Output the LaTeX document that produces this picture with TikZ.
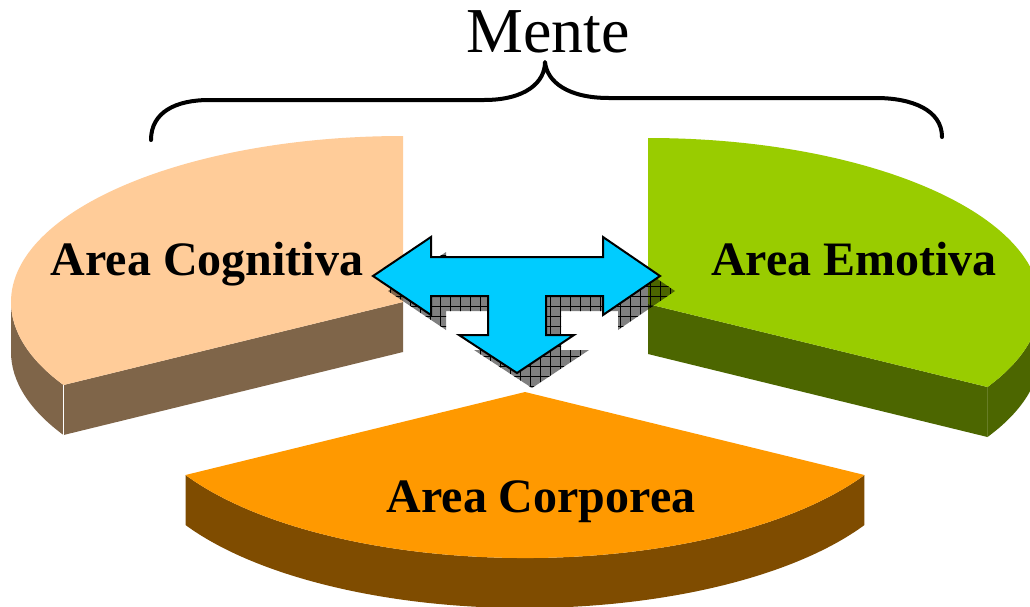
\documentclass[tikz,border=0pt]{standalone}
\usepackage{fontspec}
\setmainfont{Liberation Serif}
\usetikzlibrary{patterns.meta}
\definecolor{peach}{HTML}{FFCC99}
\definecolor{peachside}{HTML}{7F6549}
\definecolor{leaf}{HTML}{99CC00}
\definecolor{leafside}{HTML}{4C6600}
\definecolor{amber}{HTML}{FF9900}
\definecolor{amberside}{HTML}{7F4C00}
\definecolor{sky}{HTML}{00CCFF}
\def\tarrowpath{(373,276) -- (431,237) -- (431,257) -- (603,257) -- (603,237) -- (660,276) -- (603,315) -- (603,296) -- (546,296) -- (546,335) -- (574,335) -- (517,373) -- (459,335) -- (488,335) -- (488,296) -- (431,296) -- (431,315) -- cycle}
\begin{document}
\begin{tikzpicture}[x=1pt,y=-1pt,
  arealabel/.style={font=\fontsize{48}{48}\selectfont\bfseries, anchor=base, inner sep=0pt},
  titlelabel/.style={font=\fontsize{64}{64}\selectfont, anchor=base, inner sep=0pt},
  ell/.style={x radius=392, y radius=166},
  bracestyle/.style={line width=4pt, line cap=round, line join=round},
  shadowfill/.style={fill=black, fill opacity=0.5},
  shadowgrid/.style={pattern={Hatch[angle=0,distance=10pt,line width=1pt]}, pattern color=black},
  arrowstyle/.style={fill=sky, draw=black, line width=2pt, line join=miter}]
\useasboundingbox[fill=white] (0,0) rectangle (1030,606);

% ---- left slice (Area Cognitiva)
\coordinate (c1) at (403,302);
\coordinate (c1b) at (403,352);
\fill[peachside] (c1) -- ++(150:392 and 166) coordinate (l1)
  arc[start angle=150, end angle=180, ell] -- ++(0,50)
  arc[start angle=180, end angle=150, ell] -- (c1b) -- cycle;
\fill[peach] (c1) -- ++(0,-166) arc[start angle=270, end angle=150, ell] -- cycle;
\draw[white, line width=1pt] (l1) -- ++(0,50);

% ---- right slice (Area Emotiva)
\coordinate (c2) at (648,304);
\coordinate (c2b) at (648,354);
\fill[leafside] (c2) -- ++(30:392 and 166) coordinate (r1)
  arc[start angle=30, end angle=0, ell] -- ++(0,50)
  arc[start angle=0, end angle=30, ell] -- (c2b) -- cycle;
\fill[leaf] (c2) -- ++(0,-166) arc[start angle=270, end angle=390, ell] -- cycle;
\draw[leafside!85!white, line width=0.6pt] (r1) -- ++(0,50);

% ---- bottom slice (Area Corporea)
\coordinate (c3) at (525,392);
\fill[amberside] (c3) ++(150:392 and 166)
  arc[start angle=150, end angle=30, ell] -- ++(0,50)
  arc[start angle=30, end angle=150, ell] -- cycle;
\fill[amber] (c3) -- ++(150:392 and 166) arc[start angle=150, end angle=30, ell] -- cycle;

% ---- arrow shadow
\begin{scope}[shift={(15,15)}]
  \fill[shadowfill] \tarrowpath;
  \fill[shadowgrid] \tarrowpath;
\end{scope}
% ---- arrow
\draw[arrowstyle] \tarrowpath;

% ---- labels
\node[arealabel] (cog) at (207,275) {Area Cognitiva};
\node[arealabel] (emo) at (854,275) {Area Emotiva};
\node[arealabel] (cor) at (541,512) {Area Corporea};
\node[titlelabel] (mente) at (548,52) {Mente};

% ---- brace
\draw[bracestyle] (151,140) .. controls (151,112) and (176,100) .. (209,100)
  -- (484,100) .. controls (526,100) and (545,82) .. (545,62)
  .. controls (547,82) and (568,98) .. (609,98)
  -- (876,98) .. controls (912,98) and (942,110) .. (942,137);
\end{tikzpicture}
\end{document}
